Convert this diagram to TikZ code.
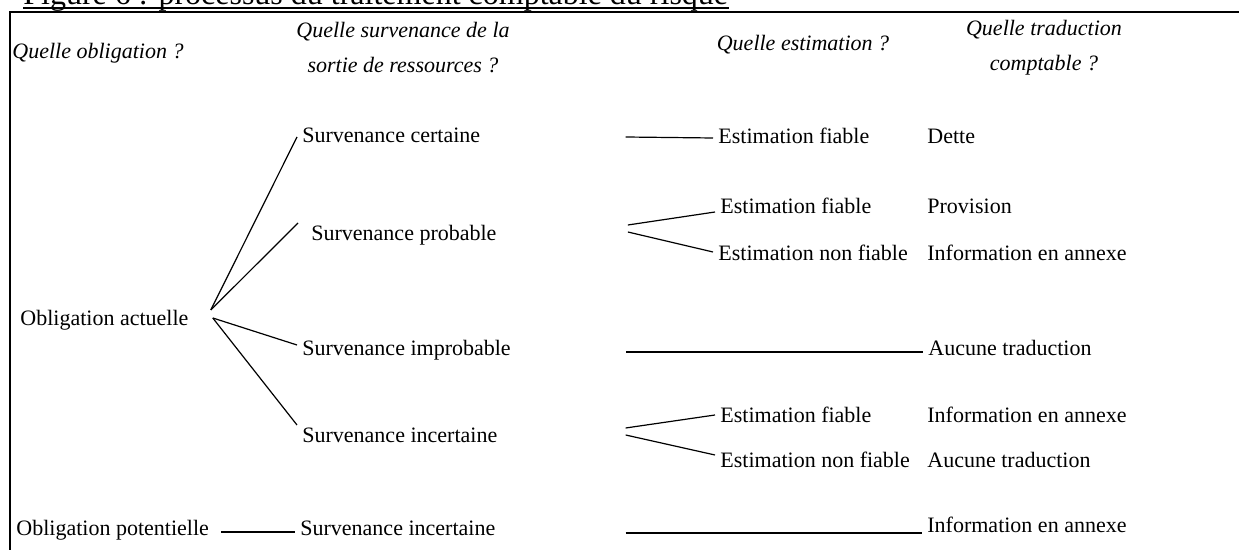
\documentclass[tikz,border=0pt]{standalone}
\usepackage{fontspec}
\setmainfont{Liberation Serif}
\usetikzlibrary{positioning}
\tikzstyle{question} = [align=center, font=\fontsize{11}{17.5}\selectfont\itshape]
\tikzstyle{item} = [anchor=west, inner sep=2.5pt, text height=1.6ex, text depth=.4ex, font=\fontsize{11}{13}\selectfont]
\tikzstyle{line} = [line width=0.6pt]

\begin{document}
\begin{tikzpicture}[x=0.5pt, y=-0.5pt]
    \clip (0,0) rectangle (1239,550);
    \node (title) [anchor=base west, inner sep=0pt, font=\fontsize{16}{19}\selectfont] at (23,5) {Figure 6 : processus du traitement comptable du risque};
    \draw [line width=1pt] ([yshift=-1.5pt]title.base west) -- ([yshift=-1.5pt]title.base east);
    \draw [line width=1pt] (10,550) -- (10,12.5) -- (1239,12.5);

    % column questions
    \node (qobl) [question] at (98,53) {Quelle obligation ?};
    \node (qsurv) [question] at (403,48) {Quelle survenance de la\\sortie de ressources ?};
    \node (qest) [question] at (803,45) {Quelle estimation ?};
    \node (qtrad) [question] at (1044,48) {Quelle traduction\\comptable ?};

    % obligations and survenances
    \node (oblact) [item] at (15,320) {Obligation actuelle};
    \node (oblpot) [item] at (11,530) {Obligation potentielle};
    \node (certaine) [item] at (297,137) {Survenance certaine};
    \node (probable) [item] at (306,235) {Survenance probable};
    \node (improbable) [item] at (297,350) {Survenance improbable};
    \node (incert) [item] at (297,437) {Survenance incertaine};
    \node (incertpot) [item] at (295,530) {Survenance incertaine};

    % estimations
    \node (fiable1) [item] at (713,138) {Estimation fiable};
    \node (fiable2) [item] at (715,208) {Estimation fiable};
    \node (nonfiable1) [item] at (713,255) {Estimation non fiable};
    \node (fiable3) [item] at (715,417) {Estimation fiable};
    \node (nonfiable2) [item] at (715,462) {Estimation non fiable};

    % traductions
    \node (dette) [item] at (922,138) {Dette};
    \node (provision) [item] at (922,208) {Provision};
    \node (annexe1) [item] at (922,255) {Information en annexe};
    \node (aucune1) [item] at (923,350) {Aucune traduction};
    \node (annexe2) [item] at (922,417) {Information en annexe};
    \node (aucune2) [item] at (922,462) {Aucune traduction};
    \node (annexe3) [item] at (922,527) {Information en annexe};

    \draw [line] ([xshift=8.5pt,yshift=5pt]oblact.east) -- (certaine.west);
    \draw [line] ([xshift=8.5pt,yshift=5pt]oblact.east) -- ([xshift=-4pt,yshift=6pt]probable.west);
    \draw [line] ([xshift=9.5pt,yshift=1pt]oblact.east) -- ([yshift=2.5pt]improbable.west);
    \draw [line] ([xshift=9.5pt,yshift=1pt]oblact.east) -- ([yshift=6pt]incert.west);
    \draw [line] ([xshift=3.5pt,yshift=-1pt]oblpot.east) -- ([yshift=-1pt]incertpot.west);

    \draw [line] ([xshift=70pt]certaine.east) -- (fiable1.west);
    \draw [line] ([xshift=63pt,yshift=5pt]probable.east) -- ([yshift=-2pt]fiable2.west);
    \draw [line] ([xshift=63pt,yshift=1.5pt]probable.east) -- ([yshift=1.5pt]nonfiable1.west);
    \draw [line] ([xshift=55pt,yshift=-1pt]improbable.east) -- ([yshift=-1pt]aucune1.west);
    \draw [line] ([xshift=61.5pt,yshift=4.5pt]incert.east) -- ([yshift=1pt]fiable3.west);
    \draw [line] ([xshift=61.5pt,yshift=1pt]incert.east) -- ([yshift=3.5pt]nonfiable2.west);
    \draw [line] ([xshift=62.5pt,yshift=-1.5pt]incertpot.east) -- ([yshift=-3pt]annexe3.west);
\end{tikzpicture}
\end{document}
